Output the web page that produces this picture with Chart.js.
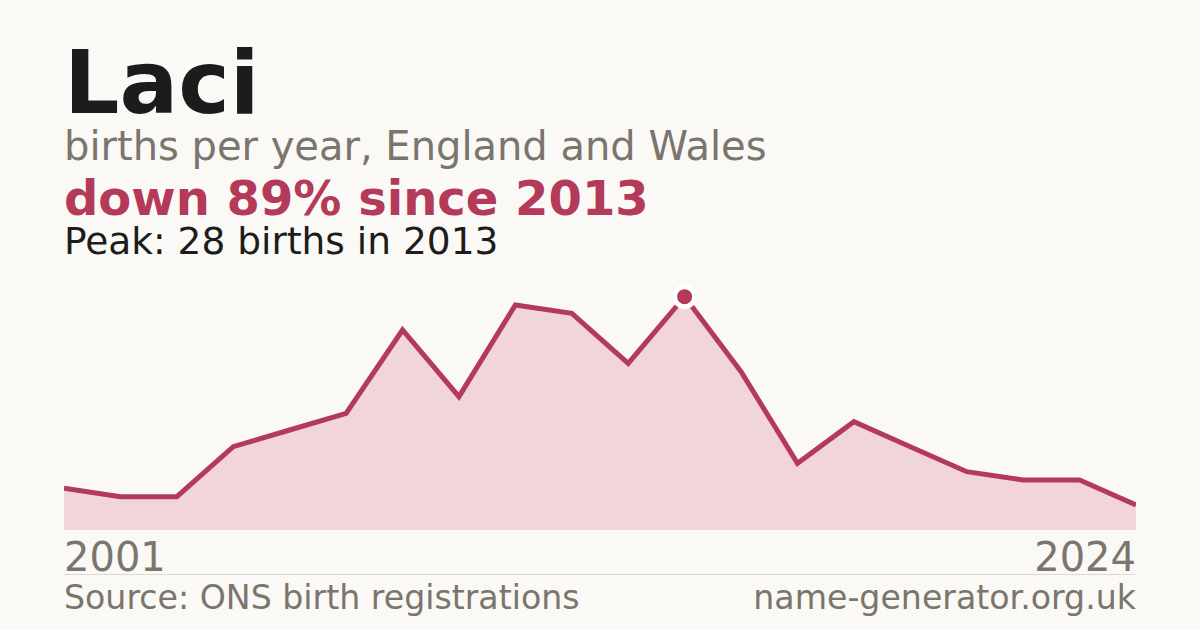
<!DOCTYPE html>
<html>
<head>
<meta charset="utf-8">
<script src="https://cdn.jsdelivr.net/npm/chart.js@4"></script>
<style>
  html, body { margin: 0; padding: 0; }
  body { width: 1200px; height: 630px; background: #faf9f5; position: relative; overflow: hidden;
         font-family: "DejaVu Sans", sans-serif; }
  .t { position: absolute; left: 64px; line-height: 1; white-space: nowrap; }
  #title { top: 40px; font-size: 87px; font-weight: bold; color: #1c1c1c; }
  #sub { top: 126px; font-size: 40px; color: #7a756d; }
  #change { top: 174px; font-size: 48px; font-weight: bold; color: #b33a58; }
  #peak { top: 223px; font-size: 37.5px; color: #1c1c1c; }
  .axis { top: 537px; font-size: 40px; color: #7a756d; }
  #last { left: auto; right: 64px; }
  #rule { position: absolute; left: 64px; width: 1072px; top: 574px; height: 1px; background: #dcd9d2; }
  .foot { top: 581px; font-size: 33.2px; color: #7a756d; }
  #site { left: auto; right: 64px; }
  #wrap { position: absolute; left: 64px; top: 280px; width: 1072px; height: 250px; }
</style>
</head>
<body>
<div id="title" class="t">Laci</div>
<div id="sub" class="t">births per year, England and Wales</div>
<div id="change" class="t">down 89% since 2013</div>
<div id="peak" class="t">Peak: 28 births in 2013</div>
<div id="wrap"><canvas id="myChart" width="1072" height="250"></canvas></div>
<div id="first" class="t axis"></div>
<div id="last" class="t axis"></div>
<div id="rule"></div>
<div class="t foot">Source: ONS birth registrations</div>
<div id="site" class="t foot">name-generator.org.uk</div>
<script>
// Years shown on the chart (some years with too few births are not listed)
const years = ["2001", "2003", "2004", "2005", "2006", "2007", "2008", "2009", "2010", "2011",
               "2012", "2013", "2014", "2015", "2016", "2018", "2019", "2021", "2022", "2024"];
const births = [5, 4, 4, 10, 12, 14, 24, 16, 27, 26, 20, 28, 19, 8, 13, 10, 7, 6, 6, 3];
const tickLabels = ["2001", "2024"];
const peakYear = "2013";

document.getElementById("first").textContent = tickLabels[0];
document.getElementById("last").textContent = tickLabels[1];

const red = "#b33a58";
const peakIndex = years.indexOf(peakYear);

new Chart(document.getElementById("myChart"), {
  type: "line",
  data: {
    labels: years,
    datasets: [
      {
        label: "Births",
        data: births,
        borderColor: red,
        borderWidth: 5,
        backgroundColor: "#f2d5db",
        fill: "origin",
        tension: 0,
        clip: false,
        pointRadius: births.map((v, i) => (i === peakIndex ? 10 : 0)),
        pointBackgroundColor: red,
        pointBorderColor: "#ffffff",
        pointBorderWidth: 5,
        pointHoverRadius: 0,
      },
    ],
  },
  options: {
    responsive: false,
    animation: false,
    events: [],
    layout: { padding: 0 },
    plugins: { legend: { display: false }, tooltip: { enabled: false } },
    scales: {
      x: { display: false, offset: false },
      y: { display: false, min: 0, max: 30 },
    },
  },
});
</script>
</body>
</html>
